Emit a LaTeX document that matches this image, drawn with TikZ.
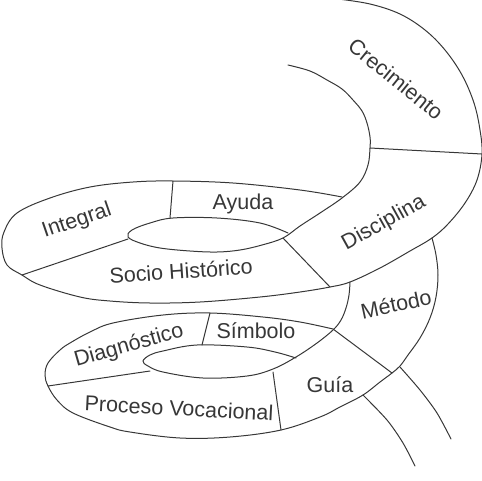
\documentclass[tikz,border=0pt]{standalone}
\usepackage{fontspec}
\setmainfont{Liberation Sans}
\usepackage{xcolor}
\definecolor{trazo}{RGB}{55, 55, 55}

\begin{document}
\begin{tikzpicture}[x=1pt, y=-1pt,
            borde/.style={draw=trazo, line width=1pt, line cap=round},
            every node/.style={inner sep=0pt, text=trazo, font=\fontsize{21.5}{24}\selectfont}]

            \useasboundingbox (0,0) rectangle (482,480);

            % Bordes de la espiral superior
            \draw[borde] plot[smooth, tension=0.6] coordinates {
                (338,-1) (370,4) (400,14) (425,30) (445,50) (462,75) (474,103) (480,130)
                (482,154) (477,180) (465,203) (448,224) (432,238) (410,251) (380,268)
                (350,282) (330,287) (300,292) (260,297) (200,302) (150,303) (110,301)
                (80,297) (40,285) (22,275) (7,265) (2,248) (4,232) (17,213) (50,198)
                (90,187) (133,182) (173,181) (233,183) (300,190) (342,197)};
            \draw[borde] plot[smooth, tension=0.6] coordinates {
                (288,65) (310,71) (327,80) (342,89) (353,100) (362,111) (367,123)
                (370,137) (370,148) (368,165) (360,182) (342,198) (320,213) (300,226)
                (283,238) (262,245) (240,250) (217,252) (190,251) (160,248) (140,243)
                (128,237) (132,230) (150,223) (173,218) (217,218) (260,223) (288,233)};

            % Bordes de la espiral inferior
            \draw[borde] plot[smooth, tension=0.6] coordinates {
                (432,238) (436,255) (438,275) (436,297) (430,318) (420,338) (408,355)
                (400,366) (392,373) (380,382) (363,395) (340,407) (320,417) (281,430)
                (230,437) (180,438) (130,432) (110,427) (73,413) (57,400) (48,386)
                (45,375) (48,363) (60,350) (70,343) (90,332) (113,323) (163,315)
                (210,313) (263,317) (300,322) (333,329)};
            \draw[borde] plot[smooth, tension=0.6] coordinates {
                (350,282) (349,295) (346,308) (341,320) (333,330) (317,343) (296,357)
                (273,369) (247,376) (203,378) (163,372) (148,366) (143,361) (150,355)
                (163,351) (197,345) (247,347) (275,352) (296,358)};

            % Colas
            \draw[borde] plot[smooth] coordinates {(400,367) (420,390) (437,413) (451,439)};
            \draw[borde] plot[smooth] coordinates {(363,395) (387,420) (403,443) (415,466)};

            % Puntos de las divisiones
            \coordinate (cre1) at (370,148);
            \coordinate (cre2) at (482,154);
            \coordinate (int1) at (173,181);
            \coordinate (int2) at (170,218);
            \coordinate (soc1) at (22,275);
            \coordinate (soc2) at (128,239);
            \coordinate (dis1) at (283,238);
            \coordinate (dis2) at (330,287);
            \coordinate (sim1) at (210,313);
            \coordinate (sim2) at (202,345);
            \coordinate (pro1) at (48,386);
            \coordinate (pro2) at (150,371);
            \coordinate (gui1) at (273,372);
            \coordinate (gui2) at (281,430);
            \coordinate (met1) at (333,329);
            \coordinate (met2) at (392,373);

            % Divisiones
            \draw[borde] (cre1) -- (cre2);
            \draw[borde] (int1) -- (int2);
            \draw[borde] (soc1) -- (soc2);
            \draw[borde] (dis1) -- (dis2);
            \draw[borde] (sim1) -- (sim2);
            \draw[borde] (pro1) -- (pro2);
            \draw[borde] (gui1) -- (gui2);
            \draw[borde] (met1) -- (met2);

            % Etiquetas
            \node[rotate=-39] (crecimiento) at (396,79) {Crecimiento};
            \node (ayuda) at (243,204) {Ayuda};
            \node[rotate=19] (integral) at (77,221) {Integral};
            \node[rotate=29] (disciplina) at (384,223) {Disciplina};
            \node[rotate=4] (socio) at (181,271) {Socio Histórico};
            \node[rotate=12] (metodo) at (396,304) {Método};
            \node[rotate=16] (diagnostico) at (129,346) {Diagnóstico};
            \node (simbolo) at (256,331) {Símbolo};
            \node (guia) at (330,385) {Guía};
            \node[rotate=-3] (proceso) at (179,408) {Proceso Vocacional};

        \end{tikzpicture}
\end{document}
